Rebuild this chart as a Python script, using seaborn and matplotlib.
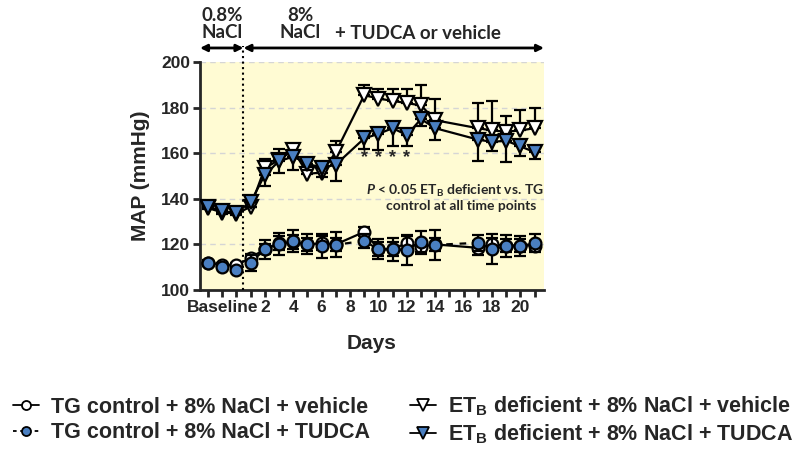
import matplotlib
matplotlib.use('Agg')
import matplotlib.pyplot as plt
from matplotlib.lines import Line2D
import seaborn as sns
import pandas as pd

# days: baseline readings are put at -2, -1, 0
days = [-2, -1, 0, 1, 2, 3, 4, 5, 6, 7, 9, 10, 11, 12, 13, 14, 17, 18, 19, 20, 21]

tg_vehicle = [112, 111, 111, 114, 118, 120.5, 121, 120, 120.5, 120, 125.5, 118, 118, 120.5, 119, 120, 118.5, 120, 119.5, 119.5, 119.5]
tg_vehicle_sem = [1, 1, 1, 2, 2, 3, 3, 3, 3, 3, 2, 3, 3, 3, 3, 3, 3, 3, 3, 3, 2]
tg_tudca = [111.7, 110.2, 108.8, 112, 117.8, 120.2, 121.6, 120.2, 119.3, 119.8, 121.6, 117.8, 117.8, 117.5, 121.2, 119.8, 120.7, 117.8, 119.3, 119.3, 120.5]
tg_tudca_sem = [1, 1, 1, 3.5, 4, 4.7, 4.9, 4.4, 5.1, 5.5, 3, 4.4, 5.1, 6.6, 4.7, 6.7, 3.6, 6.6, 4.7, 4.6, 4]

etb_vehicle = [136, 134, 133.5, 136.5, 153.5, 157, 161.5, 151, 151.5, 160.5, 185.5, 184, 183, 182, 181, 174.5, 171, 170, 169.5, 170, 171]
etb_vehicle_sem = [1, 1, 1, 2, 4, 5, 2, 3, 3, 5, 4.5, 4, 5, 6, 9, 9.5, 11, 13, 7, 9, 9]
etb_tudca = [136.5, 134.5, 134, 138.5, 150.5, 156.5, 158.5, 155.5, 153.5, 155, 166.5, 168.5, 171, 168, 175, 171, 166, 165, 165.5, 163, 160.5]
etb_tudca_sem = [1, 1, 1, 2, 5, 5, 6, 3, 4, 7, 4.5, 7, 8, 5, 3, 5, 9.5, 4, 9.5, 4, 3]

star_days = [9, 10, 11, 12]
star_level = 158.0

blue = '#4A7FC1'
sns.set_style('ticks')
plt.rcParams['font.family'] = ['Liberation Sans', 'DejaVu Sans']
plt.rcParams['font.weight'] = 'bold'
plt.rcParams['mathtext.fontset'] = 'custom'
plt.rcParams['mathtext.it'] = 'Lato:italic:bold'
plt.rcParams['mathtext.rm'] = 'Lato:bold'

fig = plt.figure(figsize=(8, 4.5), dpi=100)
ax = fig.add_axes([0.25, 0.3556, 0.43, 0.5064])
ax.set_facecolor('#FFFBD3')

series = [
    ('tg_veh', tg_vehicle, tg_vehicle_sem, 'o', 'white', 'both', None, 8.5),
    ('tg_tud', tg_tudca, tg_tudca_sem, 'o', blue, 'both', (3, 3), 8.5),
    ('etb_veh', etb_vehicle, etb_vehicle_sem, 'v', 'white', 'up', None, 10),
    ('etb_tud', etb_tudca, etb_tudca_sem, 'v', blue, 'down', None, 10),
]

for k, (name, vals, sem, mk, fc, side, dash, ms) in enumerate(series):
    df = pd.DataFrame({'day': days, 'map': vals})
    zero = [0] * len(sem)
    if side == 'both':
        yerr = [sem, sem]
    elif side == 'up':
        yerr = [zero, sem]
    else:
        yerr = [sem, zero]
    ax.errorbar(days, vals, yerr=yerr, fmt='none', ecolor='black', elinewidth=1.6,
                capsize=4, capthick=1.6, zorder=2 + 2 * k)
    sns.lineplot(data=df, x='day', y='map', ax=ax, color='black', lw=1.6,
                 marker=mk, markersize=ms, markerfacecolor=fc, markeredgecolor='black',
                 markeredgewidth=1.6, zorder=3 + 2 * k, legend=False)
    if dash is not None:
        ax.lines[-1].set_dashes(dash)

for d in star_days:
    ax.text(d, star_level, '*', ha='center', va='center', fontsize=13)

ax.text(15.4, 143.5, '$P$ < 0.05 ET$_{\\mathregular{B}}$ deficient vs. TG', ha='center', va='center',
        fontsize=10, family='Lato', fontweight='bold')
ax.text(15.8, 137.0, 'control at all time points', ha='center', va='center',
        fontsize=10, family='Lato', fontweight='bold')

# axes styling
ax.set_xlim(-2.56, 21.66)
ax.set_ylim(100, 200)
ax.set_yticks(range(100, 201, 20))
ticks = list(range(-2, 22))
labels = []
for t in ticks:
    if t == -1:
        labels.append('Baseline')
    elif t > 0 and t % 2 == 0 and t <= 20:
        labels.append(str(t))
    else:
        labels.append('')
ax.set_xticks(ticks)
ax.set_xticklabels(labels)
ax.tick_params(axis='both', width=2, length=5, labelsize=12.5, pad=2)
for lab in ax.get_xticklabels() + ax.get_yticklabels():
    lab.set_fontweight('bold')
ax.yaxis.grid(True, ls=(0, (4, 3)), color='#D5D5D5', lw=1)
ax.set_axisbelow(True)
sns.despine(ax=ax)
for s in ['left', 'bottom']:
    ax.spines[s].set_linewidth(2)
ax.set_xlabel('Days', fontsize=15, fontweight='bold', labelpad=14)
ax.set_ylabel('MAP (mmHg)', fontsize=15, fontweight='bold', labelpad=8)

# dotted divider and top arrows
ax.plot([0.5, 0.5], [100, 207], ls=':', color='black', lw=1.5, clip_on=False, zorder=20)
ax.annotate('', xy=(-2.56, 206.2), xytext=(0.5, 206.2), annotation_clip=False,
            arrowprops=dict(arrowstyle='<|-|>', lw=2, color='black', mutation_scale=10,
                            shrinkA=0, shrinkB=0))
ax.annotate('', xy=(0.5, 206.2), xytext=(21.66, 206.2), annotation_clip=False,
            arrowprops=dict(arrowstyle='<|-|>', lw=2, color='black', mutation_scale=10,
                            shrinkA=0, shrinkB=0))
ax.text(-1.0, 216.5, '0.8%\nNaCl', ha='center', va='center', fontsize=13.5, family='Lato',
        fontweight='bold', linespacing=1.0)
ax.text(4.5, 216.5, '8%\nNaCl', ha='center', va='center', fontsize=13.5, family='Lato',
        fontweight='bold', linespacing=1.0)
ax.text(12.8, 212.5, '+ TUDCA or vehicle', ha='center', va='center', fontsize=13.5,
        family='Lato', fontweight='bold')

# legend
handles = [
    Line2D([0], [0], color='black', lw=1.3, marker='o', ms=6.5, mfc='white', mec='black', mew=1.3),
    Line2D([0], [0], color='black', lw=1.3, ls=(0, (2, 2)), marker='o', ms=6.5, mfc=blue, mec='black', mew=1.3),
    Line2D([0], [0], color='black', lw=1.3, marker='v', ms=8, mfc='white', mec='black', mew=1.3),
    Line2D([0], [0], color='black', lw=1.3, marker='v', ms=8, mfc=blue, mec='black', mew=1.3),
]
names = ['TG control + 8% NaCl + vehicle', 'TG control + 8% NaCl + TUDCA',
         'ET$_{\\mathregular{B}}$ deficient + 8% NaCl + vehicle',
         'ET$_{\\mathregular{B}}$ deficient + 8% NaCl + TUDCA']
fig.legend(handles, names, ncol=2, loc='upper left', bbox_to_anchor=(0.0, 0.152),
           frameon=False, handlelength=1.2, handletextpad=0.55, columnspacing=1.9,
           labelspacing=0.22, borderaxespad=0.2,
           prop={'family': ['Liberation Sans'], 'size': 15.5, 'weight': 'bold'})

fig.savefig('out.png', dpi=100)
